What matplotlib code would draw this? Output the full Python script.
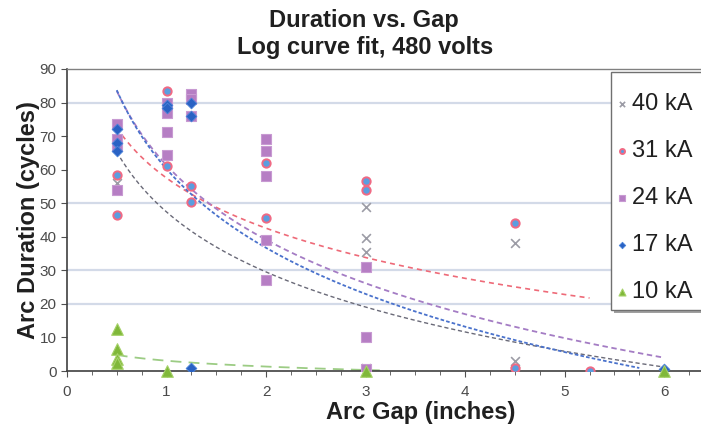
import numpy as np
import matplotlib
matplotlib.use("Agg")
import matplotlib.pyplot as plt
from matplotlib.ticker import MultipleLocator
from matplotlib.patches import Rectangle

plt.rcParams['font.family'] = ['Liberation Sans', 'DejaVu Sans']

# Messpunkte (Arc Gap in inches, Arc Duration in cycles)
gap_40 = [0.5, 3, 3, 3, 3, 4.5, 4.5, 4.5]
dur_40 = [56, 49, 39.5, 35.5, 1, 38, 3, 0]

gap_31 = [0.5, 0.5, 1, 1, 1.25, 1.25, 2, 2, 3, 3, 4.5, 4.5, 5.25]
dur_31 = [58.5, 46.5, 83.5, 61, 55, 50.5, 62, 45.7, 56.7, 54, 44, 1, 0]

gap_24 = [0.5, 0.5, 0.5, 0.5, 1, 1, 1, 1, 1.25, 1.25, 1.25, 2, 2, 2, 2, 2, 3, 3, 3]
dur_24 = [73.5, 69, 67, 54, 80, 77, 71.3, 64.4, 82.5, 81, 76, 69, 65.6, 58, 39, 27, 31, 10, 0.5]

gap_17 = [0.5, 0.5, 0.5, 1, 1, 1.25, 1.25, 1.25, 6]
dur_17 = [72, 68, 65.5, 79.3, 78.3, 80, 76, 0.8, 0.5]

gap_10 = [0.5, 0.5, 0.5, 0.5, 1, 3, 6]
dur_10 = [12.5, 6.5, 3.5, 2.5, 0, 0, 0]

# Log-Trendlinien y = a*ln(x) + b
fit_a = [-25.8, -21.56, -32.0, -33.9, -2.51]
fit_b = [47.4, 57.5, 61.3, 60.2, 3.06]
fit_xmax = [6.0, 5.25, 6.0, 5.75, 3.2]

labels = ["40 kA", "31 kA", "24 kA", "17 kA", "10 kA"]

fig = plt.figure(figsize=(7.01, 4.32), dpi=100)
ax = fig.add_axes([0.0956, 0.1412, 0.9044, 0.6991])

# Gitterlinien wie im Original (nur einzelne)
for g in [80, 50, 30, 20]:
    ax.axhline(g, color="#d3dae8", lw=1.6, zorder=0)

# Trendlinien
line_styles = [
    dict(color="#6a6a78", ls=(0, (3, 2)), lw=1.0),
    dict(color="#ee6a78", ls=(0, (3, 2.5)), lw=1.2),
    dict(color="#a47cc4", ls=(0, (3, 2)), lw=1.3),
    dict(color="#4a72cc", ls=(0, (2, 1.2)), lw=1.3),
    dict(color="#9ccc84", ls=(0, (6, 4)), lw=1.3),
]
for a, b, xm, st in zip(fit_a, fit_b, fit_xmax, line_styles):
    xs = np.linspace(0.5, xm, 200)
    ax.plot(xs, a * np.log(xs) + b, zorder=2, **st)

# Messpunkte
ax.scatter(gap_40, dur_40, marker="x", s=40, color="#9c9ca6", linewidths=1.2, zorder=3, label=labels[0])
ax.scatter(gap_31, dur_31, marker="o", s=36, facecolor="#5a9ee0", edgecolor="#f06a84", linewidths=1.4, zorder=4, label=labels[1])
ax.scatter(gap_24, dur_24, marker="s", s=50, facecolor="#b67ec4", edgecolor="#c89ad2", linewidths=0.8, zorder=3, label=labels[2])
ax.scatter(gap_17, dur_17, marker="D", s=30, facecolor="#2a62c4", edgecolor="#4a82d8", linewidths=0.6, zorder=5, label=labels[3])
ax.scatter(gap_10, dur_10, marker="^", s=70, facecolor="#80b83a", edgecolor="#a6d26a", linewidths=0.8, zorder=6, label=labels[4], clip_on=False)

ax.set_xlim(0, 6.37)
ax.set_ylim(0, 90)
ax.xaxis.set_major_locator(MultipleLocator(1))
ax.xaxis.set_minor_locator(MultipleLocator(0.25))
ax.yaxis.set_major_locator(MultipleLocator(10))
ax.tick_params(axis="both", which="major", labelsize=11, labelcolor="#4a4a4a", color="#505050", length=4, direction="out")
ax.tick_params(axis="x", which="minor", color="#505050", length=3, direction="out")
ax.tick_params(axis="x", pad=6)

for side in ["left", "bottom"]:
    ax.spines[side].set_color("#404040")
    ax.spines[side].set_linewidth(1.2)
ax.spines["top"].set_color("#808080")
ax.spines["top"].set_linewidth(1.0)
ax.spines["right"].set_visible(False)

ax.set_xlabel("Arc Gap (inches)", fontsize=17, fontweight="bold", color="#202020")
ax.xaxis.set_label_coords(0.558, -0.098)
ax.set_ylabel("Arc Duration (cycles)", fontsize=17, fontweight="bold", color="#202020")
ax.yaxis.set_label_coords(-0.043, 0.5)

fig.text(0.519, 0.953, "Duration vs. Gap", ha="center", va="center", fontsize=17, fontweight="bold", color="#202020")
fig.text(0.521, 0.890, "Log curve fit, 480 volts", ha="center", va="center", fontsize=17, fontweight="bold", color="#202020")

# Legendenrahmen mit Schatten (rechts abgeschnitten wie im Original)
fig.patches.append(Rectangle((0.8759, 0.2755), 0.2, 0.551, transform=fig.transFigure,
                             facecolor="#a0a0a0", edgecolor="none", zorder=8))
fig.patches.append(Rectangle((0.8716, 0.2824), 0.2, 0.551, transform=fig.transFigure,
                             facecolor="white", edgecolor="#707070", linewidth=1.0, zorder=9))

handles, hlabels = ax.get_legend_handles_labels()
leg = fig.legend(handles, hlabels, loc="upper left", bbox_to_anchor=(615 / 701, 0.7847),
                 borderaxespad=0, borderpad=0, fontsize=17, labelspacing=1.06,
                 handletextpad=0.1, handlelength=0.6, markerscale=0.6, frameon=False)
leg.set_zorder(10)
for t in leg.get_texts():
    t.set_color("#202020")

fig.savefig("out.png", dpi=100)
